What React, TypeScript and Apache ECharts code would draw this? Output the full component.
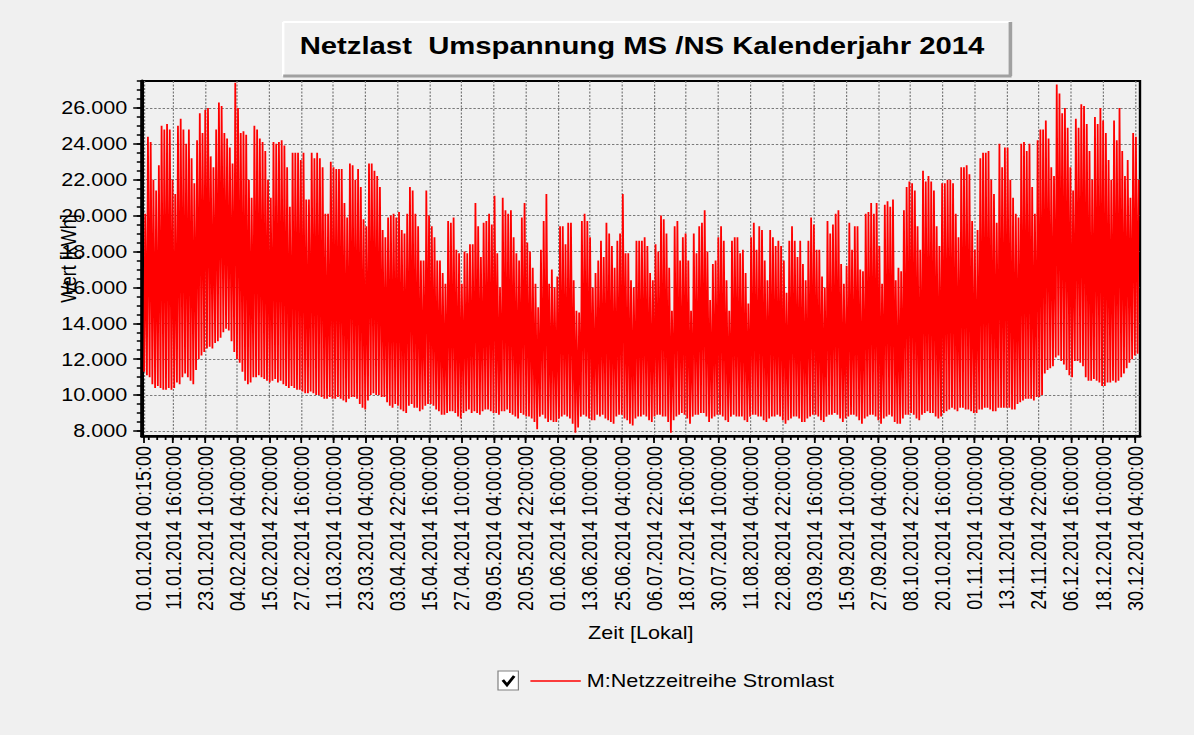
import React, { useEffect, useRef } from "react";
import * as echarts from "echarts";

// horizontal stretch of the reference picture
const S = 1.2;
const W = 1194 / S;
const H = 735;
const FONT = 'Arial, "Liberation Sans", sans-serif';

const TITLE = "Netzlast  Umspannung MS /NS Kalenderjahr 2014";
const SERIES_NAME = "M:Netzzeitreihe Stromlast";
const X_NAME = "Zeit [Lokal]";
const Y_NAME = "Wert [kWh]";

const xTickLabels = [
  "01.01.2014 00:15:00", "11.01.2014 16:00:00", "23.01.2014 10:00:00", "04.02.2014 04:00:00",
  "15.02.2014 22:00:00", "27.02.2014 16:00:00", "11.03.2014 10:00:00", "23.03.2014 04:00:00",
  "03.04.2014 22:00:00", "15.04.2014 16:00:00", "27.04.2014 10:00:00", "09.05.2014 04:00:00",
  "20.05.2014 22:00:00", "01.06.2014 16:00:00", "13.06.2014 10:00:00", "25.06.2014 04:00:00",
  "06.07.2014 22:00:00", "18.07.2014 16:00:00", "30.07.2014 10:00:00", "11.08.2014 04:00:00",
  "22.08.2014 22:00:00", "03.09.2014 16:00:00", "15.09.2014 10:00:00", "27.09.2014 04:00:00",
  "08.10.2014 22:00:00", "20.10.2014 16:00:00", "01.11.2014 10:00:00", "13.11.2014 04:00:00",
  "24.11.2014 22:00:00", "06.12.2014 16:00:00", "18.12.2014 10:00:00", "30.12.2014 04:00:00",
];

const yTickValues = [8000, 10000, 12000, 14000, 16000, 18000, 20000, 22000, 24000, 26000];

// daily peak values (kWh), 01.01.2014 .. 31.12.2014
const dayMax = [
  20100, 24400, 24100, 22000, 21400, 22800, 25000, 24800, 25100, 24800,
  22000, 21200, 25000, 25400, 24800, 24000, 24800, 23200, 21800, 24200,
  25700, 24600, 25900, 26000, 23300, 22700, 24800, 26300, 26100, 24600,
  24300, 23800, 22900, 27400, 26000, 24600, 24700, 24500, 22000, 21000,
  25000, 24800, 24300, 24100, 23600, 22000, 21000, 24100, 24000, 24100,
  24200, 23900, 22700, 20500, 23500, 23500, 23500, 23100, 23500, 20900,
  20900, 23500, 23200, 23500, 23200, 22700, 20100, 20100, 23000, 22700,
  22600, 22600, 22600, 20700, 19900, 22900, 22800, 22000, 22600, 21600,
  19800, 19400, 22900, 22900, 22500, 22200, 21600, 19200, 18800, 19900,
  20000, 20100, 19900, 20200, 19200, 19000, 20100, 21600, 21400, 20100,
  19400, 17500, 17500, 21400, 20000, 19400, 18800, 17500, 17500, 16800,
  16200, 19700, 19600, 19900, 18100, 17900, 16200, 18000, 17900, 18400,
  18400, 20700, 19400, 17700, 19600, 19700, 20100, 19500, 21100, 17900,
  16000, 21000, 20300, 20100, 20300, 18800, 17900, 17500, 19900, 20700,
  18500, 18000, 17100, 16200, 14900, 18100, 19700, 21200, 16200, 17000,
  16000, 16600, 19400, 19400, 18400, 19600, 19600, 16400, 14700, 14600,
  19700, 20100, 19700, 18800, 16000, 16800, 17500, 18600, 17700, 19600,
  19000, 18300, 17100, 18600, 19000, 21200, 17900, 17900, 16400, 16000,
  18600, 18600, 18600, 18800, 18300, 16800, 16400, 18400, 18000, 20000,
  19800, 19000, 17100, 14700, 19400, 19700, 17500, 18800, 19000, 17500,
  14700, 19000, 17900, 19400, 19600, 20300, 18000, 15300, 17300, 17500,
  18800, 19400, 18600, 16400, 14700, 18600, 18800, 18800, 17900, 18100,
  16800, 15100, 18800, 19600, 18100, 19400, 19200, 17500, 16400, 19200,
  18800, 18300, 18600, 18300, 17500, 15700, 18600, 19400, 18600, 17700,
  18600, 17300, 16400, 18600, 19900, 19500, 18100, 18100, 16600, 16000,
  19700, 19000, 19500, 20100, 20300, 17300, 16200, 17200, 19600, 18100,
  19400, 19400, 17000, 16900, 20100, 20200, 20700, 20100, 20700, 18300,
  16200, 20600, 20800, 20500, 20900, 16400, 17100, 16900, 20300, 21600,
  21900, 21800, 21400, 19400, 18100, 22500, 21900, 22200, 21900, 21400,
  19400, 18300, 21800, 21800, 22000, 22000, 21800, 20100, 18800, 22700,
  22700, 22800, 22300, 19700, 18100, 19200, 23200, 23500, 23500, 23600,
  22000, 21200, 19600, 24000, 22700, 23800, 23800, 22000, 21000, 20100,
  19900, 24000, 24100, 23600, 24000, 21600, 20100, 24200, 24800, 24800,
  25300, 24300, 22700, 22200, 27300, 26800, 25700, 26000, 24900, 22700,
  21400, 25400, 24900, 26200, 26100, 25100, 23600, 22000, 25500, 25100,
  26000, 25300, 24600, 23100, 22000, 25300, 24200, 26000, 23600, 22200,
  23100, 21000, 24600, 24400, 22000,
];

// daily night minimum values (kWh)
const dayMin = [
  11300, 11100, 11000, 10600, 10400, 10500, 10400, 10300, 10300, 10400,
  10300, 10400, 10700, 10600, 11000, 11200, 11000, 10800, 10600, 11400,
  12000, 12200, 12400, 12600, 12700, 12600, 12900, 13000, 13200, 13500,
  13700, 13600, 13000, 12400, 12000, 11800, 11300, 10800, 10600, 10700,
  11000, 11000, 11100, 11000, 10900, 10800, 10700, 10800, 10900, 10700,
  10800, 10600, 10500, 10400, 10500, 10400, 10300, 10300, 10200, 10100,
  10100, 10200, 10100, 10000, 10000, 9900, 9800, 9800, 9900, 9800,
  9800, 9900, 9800, 9700, 9600, 9800, 9900, 9900, 9800, 9500,
  9300, 9200, 9700, 10000, 10100, 10000, 10000, 9900, 9900, 9600,
  9400, 9300, 9500, 9400, 9200, 9100, 9000, 9400, 9500, 9300,
  9300, 9100, 9200, 9400, 9500, 9500, 9400, 9200, 9100, 8900,
  8900, 9000, 9100, 9100, 9000, 8800, 8700, 9000, 9100, 9200,
  9000, 9100, 9000, 8900, 9100, 9200, 9200, 9100, 9000, 9000,
  8900, 9100, 9100, 9200, 9000, 8900, 8800, 8700, 9000, 8900,
  8800, 8800, 8700, 8500, 8100, 8800, 8900, 8700, 8500, 8600,
  8500, 8500, 8700, 8800, 8900, 8800, 8700, 8400, 7900, 8200,
  8800, 8900, 8800, 8700, 8600, 8600, 8900, 8800, 8900, 8700,
  8600, 8500, 8400, 8800, 8900, 8900, 8700, 8600, 8400, 8300,
  8700, 8800, 8800, 8900, 8800, 8600, 8500, 8800, 8900, 8900,
  8800, 8800, 8500, 7900, 8600, 8800, 8900, 9000, 8900, 8700,
  8400, 8800, 8900, 8900, 9000, 9000, 8800, 8500, 8700, 8800,
  8900, 8900, 8800, 8600, 8500, 8800, 8900, 8800, 8800, 8800,
  8600, 8500, 8800, 8900, 8900, 8800, 8800, 8600, 8500, 8700,
  8800, 8800, 8900, 8800, 8600, 8400, 8600, 8700, 8800, 8800,
  8700, 8500, 8500, 8700, 8800, 8900, 8900, 8800, 8600, 8500,
  8800, 8900, 8900, 9000, 8900, 8700, 8500, 8700, 8800, 8900,
  8900, 8800, 8600, 8400, 8700, 8800, 8900, 8900, 8800, 8600,
  8400, 8700, 8800, 8900, 8800, 8500, 8400, 8400, 8700, 8900,
  8900, 9000, 8900, 8700, 8600, 8900, 9000, 9100, 9000, 9000,
  8800, 8700, 8800, 9000, 9100, 9200, 9300, 9200, 9100, 9300,
  9300, 9200, 9200, 9100, 9000, 9000, 9200, 9200, 9300, 9300,
  9200, 9100, 9100, 9300, 9300, 9300, 9300, 9300, 9200, 9200,
  9500, 9600, 9700, 9800, 9800, 9800, 9700, 9900, 9900, 10000,
  11200, 11400, 11500, 11600, 12100, 12200, 11900, 11700, 11400, 11100,
  11000, 11900, 11900, 11800, 11600, 11000, 10800, 10800, 10900, 10800,
  10700, 10500, 10500, 10700, 10700, 10800, 10700, 10800, 11000, 11200,
  11500, 11800, 12000, 12200, 12300,
];

// time of day of the daily minimum / maximum, in 15-minute steps after 00:15
const MIN_STEP = 11; // 03:00
const MAX_STEP = 47; // 12:00
const STEPS_PER_DAY = 96;

const T0 = Date.UTC(2014, 0, 1, 0, 15, 0);
function labelToIndex(s: string): number {
  const [d, t] = s.split(" ");
  const [dd, mm, yy] = d.split(".").map(Number);
  const [h, mi, se] = t.split(":").map(Number);
  return Math.round((Date.UTC(yy, mm - 1, dd, h, mi, se) - T0) / 900000);
}

export default function App() {
  const ref = useRef<HTMLDivElement>(null);

  useEffect(() => {
    if (!ref.current) return;
    const chart = echarts.init(ref.current, null, { renderer: "svg" });

    const xMajor = xTickLabels.map(labelToIndex);
    const labelByIndex: Record<number, string> = {};
    xTickLabels.forEach((l, i) => (labelByIndex[xMajor[i]] = l));

    const X_MIN = -80;
    const X_MAX = 35040;
    const Y_MIN = 7720;
    const Y_MAX = 27500;

    const step = (xMajor[2] - xMajor[1]) / 4;
    const xMinor: number[] = [];
    for (let v = xMajor[1] - step * 3; v <= X_MAX; v += step) xMinor.push(v);
    const yMinor: number[] = [];
    for (let v = 8000; v <= Y_MAX; v += 500) yMinor.push(v);

    const data: number[][] = [];
    for (let d = 0; d < dayMax.length; d++) {
      data.push([d * STEPS_PER_DAY + MIN_STEP, dayMin[d]]);
      data.push([d * STEPS_PER_DAY + MAX_STEP, dayMax[d]]);
    }

    const fmtY = (v: number) => String(v).replace(/\B(?=(\d{3})+(?!\d))/g, ".");
    const txt = { fontSize: 18, color: "#000", fontFamily: FONT };
    const grid = { color: "#7a7a7a", width: 1, type: [2, 1.5] as any };

    const tl = { x: 236, y: 22, x2: 842, y2: 76 };

    chart.setOption({
      animation: false,
      backgroundColor: "#f0f0f0",
      grid: {
        left: 118, right: 45, top: 81, bottom: 299,
        show: true, borderColor: "#000", borderWidth: 2,
        backgroundColor: "transparent", containLabel: false, outerBoundsMode: "none",
      },
      legend: {
        show: true, left: 442, top: 672, padding: 0, itemWidth: 42, itemHeight: 1.5,
        itemGap: 5, selectedMode: false, textStyle: txt, icon: "rect",
        itemStyle: { color: "#ff0000", borderWidth: 0 },
        data: [{ name: SERIES_NAME }],
      },
      xAxis: [
        {
          type: "value", min: X_MIN, max: X_MAX, position: "bottom",
          name: X_NAME, nameLocation: "middle", nameGap: 188, nameTextStyle: txt,
          nameMoveOverlap: false,
          axisLine: { show: true, onZero: false, lineStyle: { color: "#000", width: 2.5 } },
          axisTick: { show: true, length: 7, customValues: xMajor, lineStyle: { color: "#000", width: 1.5 } },
          axisLabel: {
            show: true, customValues: xMajor, rotate: 90, margin: 10, ...txt,
            hideOverlap: false,
            formatter: (v: number) => labelByIndex[Math.round(v)] ?? "",
          },
          splitLine: { show: true, lineStyle: grid },
        },
        {
          type: "value", min: X_MIN, max: X_MAX, position: "bottom",
          axisLine: { show: false, onZero: false },
          axisTick: { show: true, length: 4, customValues: xMinor, lineStyle: { color: "#000", width: 1.5 } },
          axisLabel: { show: false },
          splitLine: { show: false },
        },
      ],
      yAxis: [
        {
          type: "value", min: Y_MIN, max: Y_MAX, position: "left",
          name: Y_NAME, nameLocation: "middle", nameGap: 52, nameTextStyle: txt,
          nameMoveOverlap: false,
          axisLine: { show: true, onZero: false, lineStyle: { color: "#000", width: 3 } },
          axisTick: { show: true, length: 7, customValues: yTickValues, lineStyle: { color: "#000", width: 1.5 } },
          axisLabel: { show: true, customValues: yTickValues, margin: 12, ...txt, formatter: fmtY },
          splitLine: { show: true, lineStyle: grid },
        },
        {
          type: "value", min: Y_MIN, max: Y_MAX, position: "left",
          axisLine: { show: false, onZero: false },
          axisTick: { show: true, length: 4, customValues: yMinor, lineStyle: { color: "#000", width: 1.5 } },
          axisLabel: { show: false },
          splitLine: { show: false },
        },
      ],
      series: [
        {
          name: SERIES_NAME, type: "line", xAxisIndex: 0, yAxisIndex: 0,
          data, symbol: "none", showSymbol: false, silent: true,
          lineStyle: { color: "#ff0000", width: 1.5 },
          itemStyle: { color: "#ff0000" },
        },
      ],
      graphic: {
        elements: [
          { type: "rect", shape: { x: tl.x, y: tl.y, width: tl.x2 - tl.x, height: tl.y2 - tl.y }, style: { fill: "#f0f0f0" } },
          { type: "line", shape: { x1: tl.x, y1: tl.y, x2: tl.x2, y2: tl.y }, style: { stroke: "#ffffff", lineWidth: 2 } },
          { type: "line", shape: { x1: tl.x, y1: tl.y, x2: tl.x, y2: tl.y2 }, style: { stroke: "#ffffff", lineWidth: 2 } },
          { type: "line", shape: { x1: tl.x, y1: tl.y2, x2: tl.x2 + 1, y2: tl.y2 }, style: { stroke: "#a0a0a0", lineWidth: 3 } },
          { type: "line", shape: { x1: tl.x2, y1: tl.y, x2: tl.x2, y2: tl.y2 }, style: { stroke: "#a0a0a0", lineWidth: 3 } },
          {
            type: "text", x: 535, y: 46,
            style: { text: TITLE, fontSize: 24.4, fontWeight: "bold", fontFamily: FONT, fill: "#000", align: "center", verticalAlign: "middle" },
          },
          { type: "rect", shape: { x: 415, y: 671, width: 17, height: 19 }, style: { fill: "#ffffff", stroke: "#808080", lineWidth: 1 } },
          { type: "polyline", shape: { points: [[419, 680], [422.5, 685], [428.5, 676]] }, style: { stroke: "#000", lineWidth: 2.5, fill: "none" } },
        ],
      },
    });

    return () => chart.dispose();
  }, []);

  return (
    <div style={{ position: "absolute", left: 0, top: 0, width: 1194, height: 735, overflow: "hidden", background: "#f0f0f0" }}>
      <div ref={ref} style={{ width: W, height: H, transform: `scaleX(${S})`, transformOrigin: "0 0" }} />
    </div>
  );
}
